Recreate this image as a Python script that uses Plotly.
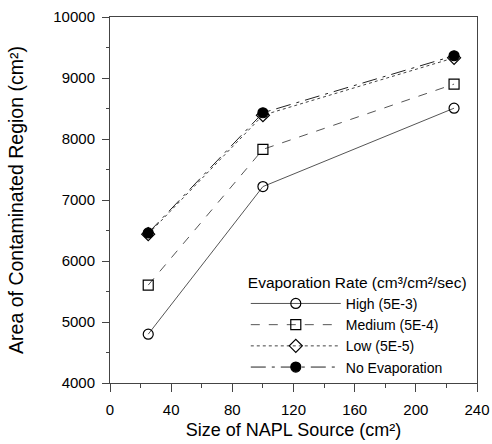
import plotly.graph_objects as go

source_size = [25, 100, 225]
high = [4800, 7220, 8505]
medium = [5605, 7830, 8900]
low = [6440, 8390, 9330]
no_evap = [6460, 8430, 9365]

series = [
    ("High (5E-3)", high, "circle-open", "solid", "#555555"),
    ("Medium (5E-4)", medium, "square-open", "dash", "#555555"),
    ("Low (5E-5)", low, "diamond-open", "dot", "#444444"),
    ("No Evaporation", no_evap, "circle", "longdashdot", "#222222"),
]

fig = go.Figure()
for name, vals, sym, dash, col in series:
    fig.add_trace(go.Scatter(
        x=source_size, y=vals, name=name, mode="lines+markers",
        line=dict(color=col, width=1, dash=dash),
        marker=dict(symbol=sym, size=10, color="black",
                    line=dict(color="black", width=1.2)),
    ))

font = "Liberation Sans, Arial, sans-serif"
fig.update_layout(
    width=492, height=444,
    margin=dict(l=110, r=15, t=17, b=61),
    paper_bgcolor="white", plot_bgcolor="white",
    font=dict(family=font, size=15, color="black"),
    showlegend=True,
    legend=dict(
        x=0.37, y=0.315, xanchor="left", yanchor="top",
        bgcolor="rgba(0,0,0,0)", borderwidth=0,
        title=dict(text="Evaporation Rate (cm³/cm²/sec)", font=dict(size=15.5)),
        itemwidth=90, font=dict(size=14), tracegroupgap=0,
    ),
    xaxis=dict(
        range=[0, 240], dtick=40, tick0=0, tickformat="d",
        automargin=False,
        showgrid=False, zeroline=False,
        showline=True, linecolor="#444444", linewidth=1, mirror=True,
        ticks="outside", ticklen=8, tickcolor="#444444",
        ticklabelstandoff=5,
        minor=dict(dtick=20, ticks="outside", ticklen=4, tickcolor="#444444", showgrid=False),
        title=dict(text="Size of NAPL Source (cm²)", font=dict(size=18), standoff=6),
        tickfont=dict(size=15),
    ),
    yaxis=dict(
        range=[4000, 10000], dtick=1000, tick0=4000, tickformat="d",
        automargin=False,
        showgrid=False, zeroline=False,
        showline=True, linecolor="#444444", linewidth=1, mirror=True,
        ticks="outside", ticklen=7, tickcolor="#444444",
        ticklabelstandoff=4,
        minor=dict(dtick=500, ticks="outside", ticklen=3, tickcolor="#444444", showgrid=False),
        title=dict(text="Area of Contaminated Region (cm²)", font=dict(size=19.5), standoff=24),
        tickfont=dict(size=15),
    ),
)

fig.write_html("out.html")
